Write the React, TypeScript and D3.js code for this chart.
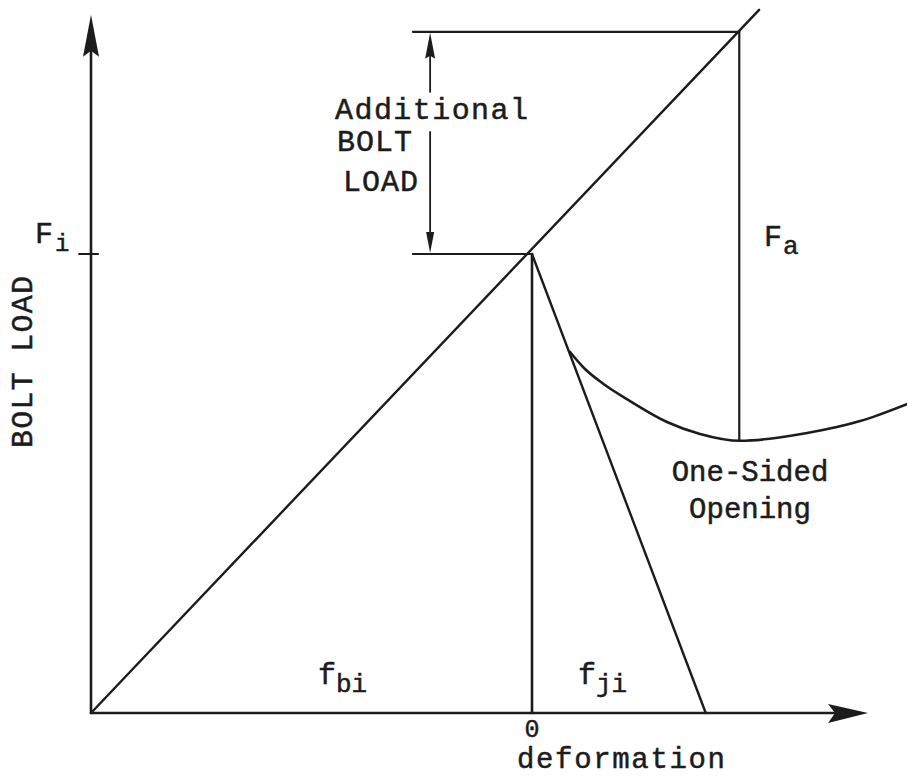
import React, { useEffect } from "react";
import * as d3 from "d3";

// ---- data (deformation units, load units; Fi = 100) ----
const axisExtent = { xMin: -100, xMax: 76.2, yMax: 152.1 };
const boltLine: [number, number][] = [[-100, 0], [51.5, 153.2]];
const jointLine: [number, number][] = [[0, 100], [39.4, 0]];
const openingCurve: [number, number][] = [
  [8.62, 78.65], [11.79, 75.16], [16.55, 71.46], [22.22, 67.97], [30.6, 63.4],
  [38.1, 60.8], [47.2, 59.3], [62.4, 61.0], [74.4, 63.6], [85.0, 67.3],
];
const Fi = 100;
const FaTop = 148.4;
const FaX = 47.0;
const FaBottom = 59.3;
const dimX = -23.1;
const dimLeft = -27;
const dimGap: [number, number] = [135.3, 126.6];

const W = 907, H = 781;
const INK = "#1c1c1c";
const FONT = "'Liberation Mono', 'DejaVu Sans Mono', monospace";

export default function App() {
  useEffect(() => {
    document.body.style.margin = "0";
  }, []);

  const x = d3.scaleLinear().domain([-100, 0]).range([91, 532]);
  const y = d3.scaleLinear().domain([0, 100]).range([713, 254]);
  const line = d3.line<[number, number]>().x((d) => x(d[0])).y((d) => y(d[1]));

  const x0 = x(axisExtent.xMin);
  const y0 = y(0);
  const yTop = y(axisExtent.yMax);
  const xEnd = x(axisExtent.xMax);

  const yArrow = `M${x0},${yTop} L${x0 + 8},${yTop + 42} L${x0},${yTop + 36} L${x0 - 8},${yTop + 42} Z`;
  const xArrow = `M${xEnd},${y0} L${xEnd - 40},${y0 - 9} L${xEnd - 33},${y0} L${xEnd - 40},${y0 + 10} Z`;
  const dx = x(dimX);
  const dTop = y(FaTop);
  const dBot = y(Fi);
  const dimUpArrow = `M${dx},${dTop + 1} L${dx + 5},${dTop + 27} L${dx},${dTop + 24} L${dx - 5},${dTop + 27} Z`;
  const dimDownArrow = `M${dx},${dBot - 1} L${dx + 4},${dBot - 22} L${dx - 4},${dBot - 22} Z`;

  const curvePath = d3
    .line<[number, number]>()
    .x((d) => x(d[0]))
    .y((d) => y(d[1]))
    .curve(d3.curveMonotoneX)(openingCurve) as string;

  const textStyle: React.CSSProperties = {
    fontFamily: FONT,
    fill: INK,
    stroke: INK,
    strokeWidth: 0.5,
  };

  return (
    <svg width={W} height={H} style={{ position: "absolute", left: 0, top: 0, background: "#fff" }}>
      <g stroke={INK} fill="none" strokeLinecap="round">
        <line x1={x0} y1={y0} x2={x0} y2={yTop + 30} strokeWidth={2.6} />
        <line x1={x0} y1={y0} x2={xEnd - 34} y2={y0} strokeWidth={2.6} />
        <line x1={x(-102.7)} x2={x(-98.4)} y1={y(Fi)} y2={y(Fi)} strokeWidth={2} />
        <path d={line(boltLine) as string} strokeWidth={2.4} />
        <path d={line(jointLine) as string} strokeWidth={2.4} />
        <line x1={x(0)} x2={x(0)} y1={y(0)} y2={y(Fi)} strokeWidth={2.6} />
        <path d={curvePath} strokeWidth={2.6} />
        <line x1={x(FaX)} x2={x(FaX)} y1={y(FaTop)} y2={y(FaBottom)} strokeWidth={2.2} />
        <line x1={x(dimLeft)} x2={x(FaX)} y1={y(FaTop)} y2={y(FaTop)} strokeWidth={2.2} />
        <line x1={x(dimLeft)} x2={x(0)} y1={y(Fi)} y2={y(Fi)} strokeWidth={2.2} />
        <line x1={dx} x2={dx} y1={dTop + 20} y2={y(dimGap[0])} strokeWidth={1.8} />
        <line x1={dx} x2={dx} y1={y(dimGap[1])} y2={dBot - 18} strokeWidth={1.8} />
      </g>
      <g fill={INK} stroke="none">
        <path d={yArrow} />
        <path d={xArrow} />
        <path d={dimUpArrow} />
        <path d={dimDownArrow} />
      </g>

      <text style={textStyle} fontSize={30} x={335} y={119} textLength={193} lengthAdjust="spacing">Additional</text>
      <text style={textStyle} fontSize={30} x={337} y={151} textLength={75} lengthAdjust="spacing">BOLT</text>
      <text style={textStyle} fontSize={30} x={343} y={191} textLength={75} lengthAdjust="spacing">LOAD</text>

      <text style={textStyle} fontSize={30} x={35} y={243}>F</text>
      <text style={textStyle} fontSize={24} x={55} y={251}>i</text>

      <text style={textStyle} fontSize={30} x={764} y={246}>F</text>
      <text style={textStyle} fontSize={26} x={783} y={254}>a</text>

      <text style={textStyle} fontSize={29} x={750} y={481} textAnchor="middle">One-Sided</text>
      <text style={textStyle} fontSize={29} x={750} y={518} textAnchor="middle">Opening</text>

      <text style={textStyle} fontSize={30} x={318} y={684}>f</text>
      <text style={textStyle} fontSize={26} x={336} y={692}>bi</text>
      <text style={textStyle} fontSize={30} x={578} y={684}>f</text>
      <text style={textStyle} fontSize={26} x={596} y={692}>ji</text>

      <text style={textStyle} fontSize={25} x={x(0)} y={737} textAnchor="middle">0</text>
      <text style={textStyle} fontSize={29} x={621} y={768} textAnchor="middle" textLength={208} lengthAdjust="spacing">deformation</text>

      <text
        style={textStyle}
        fontSize={30}
        transform={`translate(32, ${362}) rotate(-90)`}
        textAnchor="middle"
        textLength={172}
        lengthAdjust="spacing"
      >
        BOLT LOAD
      </text>
    </svg>
  );
}
